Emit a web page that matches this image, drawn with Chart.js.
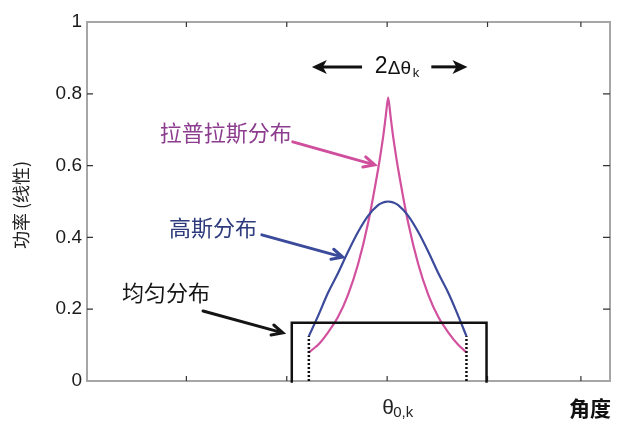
<!DOCTYPE html>
<html>
<head>
<meta charset="utf-8">
<script src="https://cdn.jsdelivr.net/npm/chart.js@4/dist/chart.umd.min.js"></script>
<style>
  body { margin: 0; background: #fff; }
  #wrap { width: 640px; height: 433px; }
</style>
</head>
<body>
<div id="wrap"><canvas id="miGrafico"></canvas></div>
<script>
// angle axis: 0 = theta_0,k, one unit = one tick step
const angulos = [-0.78, -0.69, -0.59, -0.49, -0.39, -0.29, -0.19, -0.09, -0.04, -0.015, 0.01, 0.035, 0.06, 0.11, 0.21, 0.31, 0.41, 0.51, 0.61, 0.71, 0.79];
const laplace = [0.08, 0.10, 0.135, 0.178, 0.24, 0.325, 0.44, 0.59, 0.68, 0.735, 0.79, 0.735, 0.68, 0.59, 0.44, 0.325, 0.24, 0.178, 0.135, 0.10, 0.08];
const gauss   = [0.125, 0.18, 0.245, 0.30, 0.36, 0.415, 0.46, 0.49, 0.497, 0.499, 0.5, 0.499, 0.497, 0.49, 0.46, 0.415, 0.36, 0.30, 0.245, 0.18, 0.125];
const uniformeX = [-0.95, -0.95, 0.99, 0.99];
const uniformeY = [-0.005, 0.162, 0.162, -0.005];
const xTicks = [-2, -1, 0, 1, 1.93];
const yTicks = [0, 0.2, 0.4, 0.6, 0.8, 1];

const pts = (xs, ys) => xs.map((x, i) => ({ x: x, y: ys[i] }));

const CJK = '"Noto Sans CJK SC", sans-serif';

function flecha(ctx, x1, y1, x2, y2, color, ancho, cab) {
    const a = Math.atan2(y2 - y1, x2 - x1);
    ctx.save();
    ctx.strokeStyle = color;
    ctx.lineWidth = ancho;
    ctx.lineCap = 'round';
    ctx.beginPath();
    ctx.moveTo(x1, y1);
    ctx.lineTo(x2, y2);
    ctx.moveTo(x2 - cab * Math.cos(a - 0.45), y2 - cab * Math.sin(a - 0.45));
    ctx.lineTo(x2, y2);
    ctx.lineTo(x2 - cab * Math.cos(a + 0.45), y2 - cab * Math.sin(a + 0.45));
    ctx.stroke();
    ctx.restore();
}

function flechaLlena(ctx, x1, y, x2, color) {
    const dir = Math.sign(x2 - x1);
    ctx.save();
    ctx.strokeStyle = color;
    ctx.fillStyle = color;
    ctx.lineWidth = 3;
    ctx.beginPath();
    ctx.moveTo(x1, y);
    ctx.lineTo(x2 - dir * 10, y);
    ctx.stroke();
    ctx.beginPath();
    ctx.moveTo(x2, y);
    ctx.lineTo(x2 - dir * 15, y - 7);
    ctx.lineTo(x2 - dir * 11, y);
    ctx.lineTo(x2 - dir * 15, y + 7);
    ctx.closePath();
    ctx.fill();
    ctx.restore();
}

const marco = {
    id: 'marco',
    beforeDatasetsDraw(chart) {
        const { ctx, chartArea: a, scales } = chart;
        ctx.save();
        ctx.strokeStyle = '#a6a6a6';
        ctx.lineWidth = 2;
        ctx.strokeRect(a.left, a.top, a.right - a.left, a.bottom - a.top);
        ctx.strokeStyle = '#333';
        ctx.lineWidth = 1.2;
        ctx.beginPath();
        yTicks.slice(1, -1).forEach(v => {
            const y = scales.y.getPixelForValue(v);
            ctx.moveTo(a.left, y); ctx.lineTo(a.left + 6, y);
            ctx.moveTo(a.right, y); ctx.lineTo(a.right - 7, y);
        });
        xTicks.forEach(v => {
            const x = scales.x.getPixelForValue(v);
            ctx.moveTo(x, a.bottom); ctx.lineTo(x, a.bottom - 5);
            ctx.moveTo(x, a.top); ctx.lineTo(x, a.top + 5);
        });
        ctx.stroke();
        ctx.restore();
    },
    afterDraw(chart) {
        const { ctx, chartArea: a, scales } = chart;
        const X = v => scales.x.getPixelForValue(v);
        const Y = v => scales.y.getPixelForValue(v);
        ctx.save();
        ctx.textBaseline = 'middle';

        // theta_0,k under the centre tick
        ctx.fillStyle = '#222';
        ctx.font = '21px "Liberation Sans", Arial, sans-serif';
        ctx.textAlign = 'left';
        const x0 = X(0) - 5;
        ctx.fillText('θ', x0, a.bottom + 27);
        ctx.font = '15px "Liberation Sans", Arial, sans-serif';
        ctx.fillText('0,k', x0 + 11, a.bottom + 32);

        // axis names
        ctx.font = 'bold 21px ' + CJK;
        ctx.textAlign = 'right';
        ctx.fillStyle = '#111';
        ctx.fillText('角度', a.right + 1, a.bottom + 27);

        ctx.save();
        ctx.translate(21, 205);
        ctx.rotate(-Math.PI / 2);
        ctx.textAlign = 'center';
        ctx.font = '18px ' + CJK;
        ctx.fillStyle = '#222';
        ctx.fillText('功率 (线性)', 0, 0);
        ctx.restore();

        // 2 delta theta_k with arrows
        const yTop = Y(0.875);
        ctx.fillStyle = '#111';
        ctx.textAlign = 'left';
        ctx.font = '23px "Liberation Sans", Arial, sans-serif';
        ctx.fillText('2', X(-0.124), yTop);
        ctx.font = '19px "Liberation Sans", Arial, sans-serif';
        ctx.fillText('Δθ', X(-0.124) + 13, yTop + 2);
        ctx.font = '13px "Liberation Sans", Arial, sans-serif';
        ctx.fillText('k', X(-0.124) + 38, yTop + 7);
        flechaLlena(ctx, X(-0.25), yTop, X(-0.75), '#111');
        flechaLlena(ctx, X(0.44), yTop, X(0.80), '#111');

        // labels with arrows
        ctx.font = '22px ' + CJK;
        ctx.textAlign = 'right';
        ctx.fillStyle = '#8c3d8e';
        ctx.fillText('拉普拉斯分布', X(-0.95), Y(0.691));
        flecha(ctx, X(-0.94), Y(0.666), X(-0.124), Y(0.602), '#cf4f9d', 3, 12);

        ctx.fillStyle = '#2d3a7c';
        ctx.fillText('高斯分布', X(-1.297), Y(0.426));
        flecha(ctx, X(-1.248), Y(0.407), X(-0.442), Y(0.345), '#3b4a9a', 3, 12);

        ctx.fillStyle = '#151515';
        ctx.fillText('均匀分布', X(-1.764), Y(0.245));
        flecha(ctx, X(-1.834), Y(0.195), X(-1.039), Y(0.134), '#151515', 3, 12);
        ctx.restore();
    }
};

const ctx = document.getElementById('miGrafico').getContext('2d');
const miGrafico = new Chart(ctx, {
    type: 'scatter',
    data: {
        datasets: [
            {
                label: '均匀分布',
                data: pts(uniformeX, uniformeY),
                showLine: true,
                borderColor: '#111',
                borderWidth: 2.5,
                pointRadius: 0,
                tension: 0,
                clip: false
            },
            {
                label: '虚线左',
                data: [{ x: angulos[0], y: 0 }, { x: angulos[0], y: gauss[0] }],
                showLine: true,
                borderColor: '#111',
                borderWidth: 2.5,
                borderDash: [2, 2],
                pointRadius: 0
            },
            {
                label: '虚线右',
                data: [{ x: angulos[angulos.length - 1], y: 0 }, { x: angulos[angulos.length - 1], y: gauss[gauss.length - 1] }],
                showLine: true,
                borderColor: '#111',
                borderWidth: 2.5,
                borderDash: [2, 2],
                pointRadius: 0
            },
            {
                label: '高斯分布',
                data: pts(angulos, gauss),
                showLine: true,
                borderColor: '#3b4a9a',
                borderWidth: 2.2,
                pointRadius: 0,
                cubicInterpolationMode: 'monotone'
            },
            {
                label: '拉普拉斯分布',
                data: pts(angulos, laplace),
                showLine: true,
                borderColor: '#d2519f',
                borderWidth: 2.2,
                pointRadius: 0,
                tension: 0.25
            }
        ]
    },
    options: {
        responsive: true,
        maintainAspectRatio: false,
        animation: false,
        layout: { padding: { left: 0, right: 30, top: 22, bottom: 0 } },
        plugins: { legend: { display: false }, tooltip: { enabled: false } },
        scales: {
            x: {
                type: 'linear',
                min: -2.99,
                max: 2.22,
                grid: { display: false },
                border: { display: false },
                ticks: { display: false },
                afterBuildTicks: s => { s.ticks = xTicks.map(v => ({ value: v })); },
                afterFit: s => { s.height = 52; }
            },
            y: {
                min: 0,
                max: 1,
                grid: { display: false, drawTicks: false },
                border: { display: false },
                afterBuildTicks: s => { s.ticks = yTicks.map(v => ({ value: v })); },
                ticks: {
                    padding: 5,
                    color: '#1a1a1a',
                    font: { family: '"Liberation Sans", Arial, sans-serif', size: 19 },
                    callback: v => String(+v.toFixed(1))
                },
                afterFit: s => { s.width = 87; }
            }
        }
    },
    plugins: [marco]
});
</script>
</body>
</html>
